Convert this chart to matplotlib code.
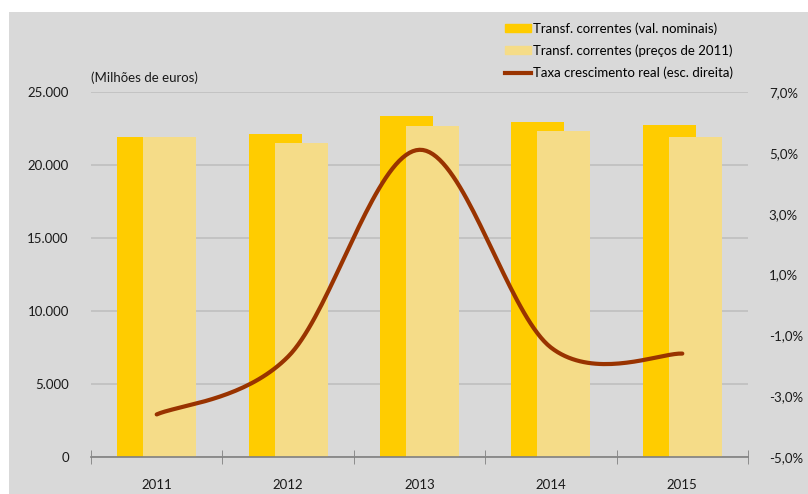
import numpy as np
import matplotlib
matplotlib.use("Agg")
import matplotlib.pyplot as plt
from matplotlib.patches import Rectangle, Patch
from matplotlib.lines import Line2D
from matplotlib.ticker import FuncFormatter

plt.rcParams["font.family"] = ["Lato", "DejaVu Sans"]

# ── Data ─────────────────────────────────────────────
anos = ["2011", "2012", "2013", "2014", "2015"]
nominais = [21900, 22150, 23350, 22950, 22750]      # M€
precos_2011 = [21900, 21500, 22650, 22300, 21950]   # M€
taxa_real = [-3.6, -1.7, 5.1, -1.4, -1.6]            # %

C_NOM = "#FFCC00"
C_REAL = "#F5DC88"
C_LINE = "#993300"
C_BG = "#D9D9D9"
C_GRID = "#BFBFBF"


def catmull_rom(x, y, n=40):
    # smoothed line through the points (uniform Catmull-Rom)
    p = np.column_stack([x, y]).astype(float)
    p = np.vstack([p[0], p, p[-1]])
    out = []
    t = np.linspace(0, 1, n)[:, None]
    for i in range(1, len(p) - 2):
        p0, p1, p2, p3 = p[i - 1], p[i], p[i + 1], p[i + 2]
        seg = 0.5 * ((2 * p1) + (-p0 + p2) * t
                     + (2 * p0 - 5 * p1 + 4 * p2 - p3) * t ** 2
                     + (-p0 + 3 * p1 - 3 * p2 + p3) * t ** 3)
        out.append(seg if i == 1 else seg[1:])
    out = np.vstack(out)
    return out[:, 0], out[:, 1]


fig = plt.figure(figsize=(8.08, 4.94), dpi=100)
fig.patches.append(Rectangle((9 / 808, 0), 1, 1 - 12 / 494, transform=fig.transFigure,
                             facecolor=C_BG, edgecolor="none", zorder=-10))

ax = fig.add_axes([91 / 808, 37 / 494, 657 / 808, 365 / 494])
ax.set_facecolor("none")
x = np.arange(len(anos))
w = 0.403
off = 0.099
ax.bar(x - off, nominais, w, color=C_NOM, zorder=2)
ax.bar(x + off, precos_2011, w, color=C_REAL, zorder=3)

ax.set_xlim(-0.5, len(anos) - 0.5)
ax.set_ylim(0, 25000)
ax.set_yticks(np.arange(0, 25001, 5000))
ax.yaxis.set_major_formatter(FuncFormatter(lambda v, _: f"{v:,.0f}".replace(",", ".")))
ax.yaxis.grid(True, color=C_GRID, lw=1.2, zorder=0)
ax.set_axisbelow(True)
ax.set_xticks(x)
ax.set_xticklabels(anos)
ax.set_xticks(np.arange(-0.5, len(anos)), minor=True)
ax.tick_params(axis="x", which="major", length=0, pad=16, labelsize=9.5, colors="#1a1a1a")
ax.tick_params(axis="x", which="minor", length=10, direction="inout", color="#808080")
ax.tick_params(axis="y", length=0, pad=16, labelsize=9.5, labelcolor="#1a1a1a")
for s in ["top", "right", "left"]:
    ax.spines[s].set_visible(False)
ax.spines["bottom"].set_color("#808080")
ax.spines["bottom"].set_linewidth(1.2)
ax.spines["bottom"].set_zorder(5)

ax.text(0, 1.04, "(Milhões de euros)", transform=ax.transAxes, fontsize=9.5,
        ha="left", va="center", color="#1a1a1a")

# right axis: real growth rate
ax2 = ax.twinx()
ax2.set_ylim(-5, 7)
ax2.set_yticks(np.arange(-5, 7.1, 2))
ax2.yaxis.set_major_formatter(FuncFormatter(lambda v, _: f"{v:.1f}%".replace(".", ",")))
ax2.tick_params(axis="y", length=0, pad=15, labelsize=9.5, labelcolor="#1a1a1a")
for s in ax2.spines.values():
    s.set_visible(False)
sx, sy = catmull_rom(x, taxa_real)
ax2.plot(sx, sy, color=C_LINE, lw=3, solid_capstyle="round", zorder=4)

handles = [Patch(color=C_NOM), Patch(color=C_REAL),
           Line2D([], [], color=C_LINE, lw=3)]
labels = ["Transf. correntes (val. nominais)",
          "Transf. correntes (preços de 2011)",
          "Taxa crescimento real (esc. direita)"]
fig.legend(handles, labels, loc="upper left", bbox_to_anchor=(505 / 808, 1 - 22 / 494),
           frameon=False, fontsize=9.5, handlelength=2.0, handleheight=0.55,
           handletextpad=0.15, labelspacing=0.75, borderpad=0, borderaxespad=0)

fig.savefig("out.png", dpi=100)
